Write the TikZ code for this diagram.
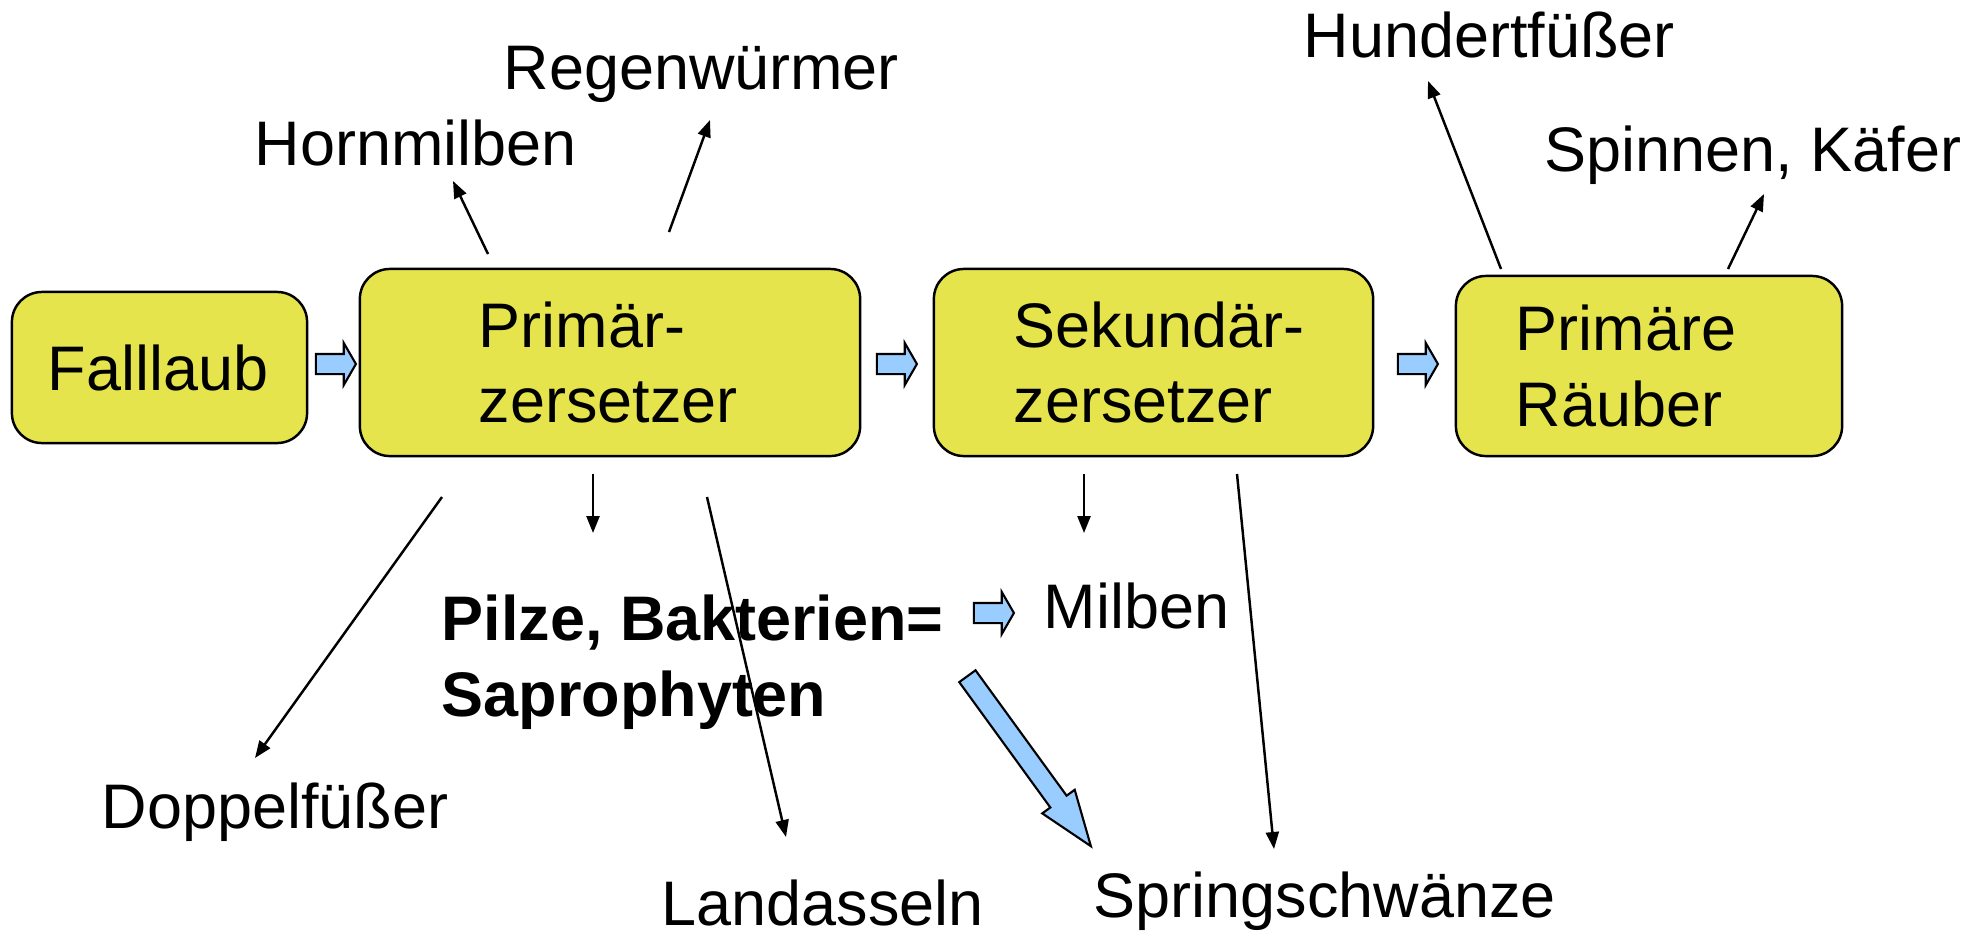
\documentclass[tikz,border=0pt]{standalone}
\usepackage{fontspec}
\setmainfont{Liberation Sans}
\usetikzlibrary{shapes.arrows,arrows.meta}
\definecolor{boxyellow}{RGB}{230,228,77}
\definecolor{flowblue}{RGB}{153,204,255}

\begin{document}
\begin{tikzpicture}[x=0.01cm,y=-0.01cm,font=\fontsize{17.9}{21.6}\selectfont]
\tikzset{B/.style={draw,fill=boxyellow,rounded corners=0.3cm,line width=0.7pt,align=left,inner ysep=0},
F/.style={single arrow,draw,fill=flowblue,line width=0.6pt,inner xsep=0,inner ysep=0.09cm,single arrow head extend=0.11cm,single arrow tip angle=120,minimum height=0.4cm},
A/.style={-{Triangle[length=0.17cm,width=0.13cm]},line width=0.7pt},
T/.style={anchor=base west,inner sep=0}
}
\useasboundingbox (0,0) rectangle (1988,933);

% Boxes
\node(fall)[B,minimum width=2.95cm,minimum height=1.51cm,inner xsep=0.36cm,text width=2.23cm] at (159.5,367.5) {Falllaub};
\node(prim)[B,minimum width=5cm,minimum height=1.87cm,inner xsep=1.19cm,text width=2.62cm] at (610,362.5) {\mbox{Primär-}\\zersetzer};
\node(sek)[B,minimum width=4.39cm,minimum height=1.87cm,inner xsep=0.8cm,text width=2.79cm] at (1153.5,362.5) {\mbox{Sekundär-}\\zersetzer};
\node(raub)[B,minimum width=3.86cm,minimum height=1.8cm,inner xsep=0.6cm,text width=2.66cm] at (1649,366) {Primäre\\Räuber};

% blue flow arrows
\node(f1)[F] at (333,364) {};
\node(f2)[F] at (894,364) {};
\node(f3)[F] at (1415,364) {};
\node(f4)[F] at (991,613) {};
\node(f5)[F,minimum height=2.1cm,single arrow head extend=0.1cm,single arrow tip angle=40,rotate=-54] at (1021,750) {};

% Labels
\node(regen)[T] at (503,89) {Regenwürmer};
\node(horn)[T] at (254,165) {Hornmilben};
\node(hundert)[T] at (1303,57) {Hundertfüßer};
\node(spinnen)[T] at (1544,171) {Spinnen, Käfer};
\node(pilze)[T,align=left,font=\fontsize{17.9}{21.6}\selectfont\bfseries] at (441,716) {Pilze, Bakterien=\\Saprophyten};
\node(milben)[T] at (1043,628) {Milben};
\node(doppel)[T] at (101,828) {Doppelfüßer};
\node(land)[T] at (661,925) {Landasseln};
\node(spring)[T] at (1093,917) {Springschwänze};

% arrow ends
\coordinate(h0) at (488,254); \coordinate(h1) at (453,181);
\coordinate(r0) at (669,232); \coordinate(r1) at (710,120);
\coordinate(u0) at (1501,269); \coordinate(u1) at (1428,81);
\coordinate(s0) at (1728,269); \coordinate(s1) at (1764,194);
\coordinate(d0) at (442,497); \coordinate(d1) at (255,758);
\coordinate(p0) at (593,474); \coordinate(p1) at (593,533);
\coordinate(l0) at (707,497); \coordinate(l1) at (786,837);
\coordinate(m0) at (1084,474); \coordinate(m1) at (1084,533);
\coordinate(w0) at (1237,474); \coordinate(w1) at (1274,849);

\draw[A] (h0) -- (h1);
\draw[A] (r0) -- (r1);
\draw[A] (u0) -- (u1);
\draw[A] (s0) -- (s1);
\draw[A] (d0) -- (d1);
\draw[A] (p0) -- (p1);
\draw[A] (l0) -- (l1);
\draw[A] (m0) -- (m1);
\draw[A] (w0) -- (w1);

\end{tikzpicture}
\end{document}
